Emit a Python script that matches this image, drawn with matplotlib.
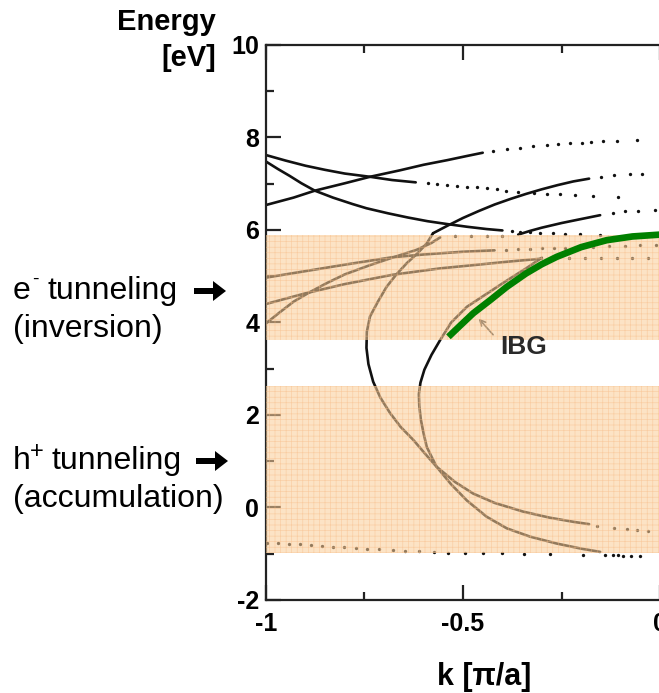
import matplotlib.pyplot as plt
from matplotlib.patches import FancyArrow
from matplotlib.transforms import IdentityTransform

plt.rcParams['font.family'] = ['Liberation Sans', 'DejaVu Sans']
plt.rcParams['hatch.linewidth'] = 0.45

# shaded energy windows (tunneling ranges)
band_lo = [3.62, -0.98]
band_hi = [5.90, 2.63]

# upper bands (black, above the window)
c1_k = [-1, -0.93, -0.876, -0.8, -0.736, -0.66, -0.6, -0.54, -0.49, -0.45]
c1_E = [6.54, 6.70, 6.85, 7.01, 7.15, 7.29, 7.41, 7.51, 7.60, 7.67]
c1_dot_k = [-0.423, -0.389, -0.355, -0.322, -0.288, -0.258, -0.229, -0.199, -0.174, -0.144, -0.110, -0.059]
c1_dot_E = [7.71, 7.75, 7.78, 7.81, 7.83, 7.85, 7.87, 7.89, 7.90, 7.92, 7.93, 7.95]

c2_k = [-1, -0.95, -0.9, -0.85, -0.8, -0.736, -0.68, -0.62]
c2_E = [7.62, 7.50, 7.39, 7.30, 7.22, 7.15, 7.08, 7.03]
c2_dot_k = [-0.59, -0.565, -0.54, -0.515, -0.49, -0.465, -0.44, -0.415, -0.39, -0.36, -0.32, -0.288, -0.253, -0.216, -0.17, -0.106]
c2_dot_E = [7.02, 7.00, 6.98, 6.96, 6.94, 6.92, 6.90, 6.88, 6.85, 6.82, 6.80, 6.78, 6.77, 6.75, 6.74, 6.72]

c3_k = [-1, -0.97, -0.94, -0.91, -0.876, -0.83, -0.78, -0.745, -0.69, -0.64, -0.59, -0.542, -0.49, -0.44, -0.40]
c3_E = [7.48, 7.32, 7.17, 7.01, 6.85, 6.70, 6.56, 6.47, 6.36, 6.27, 6.19, 6.13, 6.07, 6.02, 5.99]
c3_dot_k = [-0.375, -0.355, -0.33, -0.305, -0.271, -0.241, -0.203, -0.152]
c3_dot_E = [5.97, 5.96, 5.95, 5.94, 5.93, 5.92, 5.91, 5.89]

c4_k = [-0.36, -0.33, -0.30, -0.25, -0.21, -0.152]
c4_E = [5.90, 5.98, 6.05, 6.15, 6.22, 6.32]
c4_dot_k = [-0.12, -0.09, -0.055, -0.013]
c4_dot_E = [6.37, 6.40, 6.42, 6.43]

r2_k = [-0.576, -0.54, -0.5, -0.46, -0.42, -0.38, -0.34, -0.30, -0.26, -0.22, -0.18]
r2_E = [5.93, 6.09, 6.26, 6.41, 6.55, 6.67, 6.78, 6.88, 6.97, 7.05, 7.11]
r2_dot_k = [-0.15, -0.118, -0.076, -0.046]
r2_dot_E = [7.15, 7.19, 7.20, 7.22]

# left "C" band (upper branch -> vertex -> lower branch -> steep tail)
lc_k = [-0.576, -0.592, -0.615, -0.643, -0.67, -0.694, -0.716, -0.736, -0.744, -0.745, -0.74, -0.728,
        -0.71, -0.685, -0.658, -0.626, -0.597, -0.567, -0.53, -0.49, -0.44, -0.389, -0.33, -0.262, -0.2, -0.152]
lc_E = [5.93, 5.71, 5.50, 5.28, 5.03, 4.77, 4.45, 4.13, 3.80, 3.45, 3.10, 2.72,
        2.38, 2.04, 1.74, 1.46, 1.17, 0.88, 0.50, 0.15, -0.20, -0.45, -0.63, -0.78, -0.89, -0.96]

# right "C" band
rc_k = [-0.30, -0.34, -0.39, -0.44, -0.49, -0.53, -0.558, -0.58, -0.598, -0.608, -0.612, -0.611,
        -0.607, -0.60, -0.592, -0.58, -0.567, -0.52, -0.474, -0.42, -0.347, -0.28, -0.22, -0.18]
rc_E = [5.40, 5.17, 4.90, 4.62, 4.34, 4.00, 3.62, 3.30, 2.98, 2.70, 2.45, 2.20,
        1.90, 1.60, 1.31, 1.10, 0.88, 0.55, 0.30, 0.10, -0.09, -0.22, -0.31, -0.36]
rc_dot_k = [-0.161, -0.118, -0.085, -0.059, -0.03]
rc_dot_E = [-0.40, -0.44, -0.46, -0.49, -0.51]

# bands inside the upper window
la_k = [-1, -0.9, -0.8, -0.68, -0.6, -0.5, -0.42]
la_E = [4.97, 5.11, 5.25, 5.41, 5.47, 5.53, 5.56]
la_dot_k = [-0.39, -0.36, -0.33, -0.30, -0.27, -0.24, -0.21, -0.17, -0.13, -0.09, -0.05, -0.01]
la_dot_E = [5.57, 5.58, 5.59, 5.60, 5.61, 5.62, 5.63, 5.64, 5.65, 5.66, 5.67, 5.68]

lb_k = [-1, -0.9, -0.8, -0.68, -0.558, -0.45, -0.38, -0.30]
lb_E = [4.40, 4.63, 4.83, 5.03, 5.17, 5.26, 5.32, 5.38]
lb_dot_k = [-0.27, -0.23, -0.19, -0.15, -0.11, -0.07, -0.03]
lb_dot_E = [5.40, 5.40, 5.39, 5.39, 5.39, 5.39, 5.39]

lcc_k = [-1, -0.965, -0.93, -0.89, -0.846, -0.8, -0.736, -0.68, -0.618, -0.58, -0.558]
lcc_E = [3.98, 4.22, 4.45, 4.65, 4.85, 5.04, 5.24, 5.40, 5.57, 5.72, 5.84]
lcc_dot_k = [-0.52, -0.48, -0.44, -0.40]
lcc_dot_E = [5.86, 5.87, 5.87, 5.88]

# lowest band (dots)
low_k = [-0.998, -0.969, -0.941, -0.914, -0.887, -0.859, -0.831, -0.802, -0.772, -0.743, -0.712, -0.678,
         -0.646, -0.611, -0.574, -0.537, -0.495, -0.450, -0.402, -0.345, -0.279, -0.195, -0.140, -0.119,
         -0.106, -0.093, -0.074, -0.051]
low_E = [-0.76, -0.77, -0.79, -0.80, -0.82, -0.83, -0.85, -0.86, -0.88, -0.90, -0.90, -0.92,
         -0.93, -0.95, -0.96, -0.98, -0.98, -0.98, -0.99, -1.00, -1.01, -1.03, -1.03, -1.03,
         -1.03, -1.04, -1.05, -1.05]

# IBG band (green)
ibg_k = [-0.537, -0.51, -0.474, -0.43, -0.389, -0.34, -0.30, -0.262, -0.2, -0.135, -0.07, 0]
ibg_E = [3.69, 3.91, 4.20, 4.49, 4.77, 5.06, 5.26, 5.42, 5.63, 5.78, 5.86, 5.90]

fig = plt.figure(figsize=(6.59, 6.93), dpi=100)
ax = fig.add_axes([0.4036, 0.1342, 0.598, 0.8009])

ink = '#111111'


def solid(k, E):
    ax.plot(k, E, color=ink, lw=1.9, solid_capstyle='round', zorder=2)


def dots(k, E):
    ax.plot(k, E, ls='none', marker='o', ms=2.4, mec='none', color=ink, zorder=2)


for k, E in [(c1_k, c1_E), (c2_k, c2_E), (c3_k, c3_E), (c4_k, c4_E), (r2_k, r2_E),
             (lc_k, lc_E), (rc_k, rc_E), (la_k, la_E), (lb_k, lb_E), (lcc_k, lcc_E)]:
    solid(k, E)
for k, E in [(c1_dot_k, c1_dot_E), (c2_dot_k, c2_dot_E), (c3_dot_k, c3_dot_E), (c4_dot_k, c4_dot_E),
             (r2_dot_k, r2_dot_E), (rc_dot_k, rc_dot_E), (la_dot_k, la_dot_E), (lb_dot_k, lb_dot_E),
             (lcc_dot_k, lcc_dot_E), (low_k, low_E)]:
    dots(k, E)

ax.annotate('', xy=(-0.465, 4.13), xytext=(-0.419, 3.69),
            arrowprops=dict(arrowstyle='->', color='#444444', lw=1.2), zorder=2)

for lo, hi in zip(band_lo, band_hi):
    ax.axhspan(lo, hi, facecolor='#facd98', edgecolor='#f7bb85', alpha=0.56,
               hatch='+++', lw=0, zorder=3)

ax.plot(ibg_k, ibg_E, color='#008000', lw=4.8, solid_capstyle='butt', zorder=4)
ax.text(-0.346, 3.47, 'IBG', fontsize=19, fontweight='bold', color='#2a2a2a',
        ha='center', va='center', zorder=5)

ax.set_xlim(-1, 0)
ax.set_ylim(-2, 10)
ax.set_xticks([-1, -0.5, 0])
ax.set_xticklabels(['-1', '-0.5', '0'])
ax.set_xticks([-0.75, -0.25], minor=True)
ax.set_yticks(range(-2, 11, 2))
ax.set_yticklabels(['-2', '0', '2', '4', '6', '8', '10'])
ax.set_yticks(range(-1, 10, 2), minor=True)
ax.tick_params(which='both', direction='in', top=True, right=False, width=1.6, color='#222222')
ax.tick_params(which='major', length=11)
ax.tick_params(which='minor', length=5.5)
ax.tick_params(axis='x', which='major', pad=9, labelsize=18)
ax.tick_params(axis='y', which='major', pad=5, labelsize=18)
for lbl in ax.get_xticklabels() + ax.get_yticklabels():
    lbl.set_fontweight('bold')
for s in ax.spines.values():
    s.set_linewidth(1.6)
    s.set_color('#222222')
ax.spines['right'].set_visible(False)

W, H = 659, 693


def ftext(x, y, s, **kw):
    fig.text(x / W, 1 - y / H, s, **kw)


def farrow(x, y):
    fig.add_artist(FancyArrow(x, H - y, 32, 0, width=6, head_width=20, head_length=13,
                              length_includes_head=True, color='black', lw=0,
                              transform=IdentityTransform()))


ftext(216, 22, 'Energy', fontsize=21, fontweight='bold', ha='right', va='center')
ftext(216, 58, '[eV]', fontsize=21, fontweight='bold', ha='right', va='center')
ftext(484, 677, 'k [π/a]', fontsize=22, fontweight='bold', ha='center', va='center')

ftext(13, 291, 'e', fontsize=23, ha='left', va='center')
ftext(32, 279, '-', fontsize=14, ha='left', va='center')
ftext(47, 291, 'tunneling', fontsize=23, ha='left', va='center')
ftext(13, 329, '(inversion)', fontsize=23, ha='left', va='center')
ftext(13, 461, 'h', fontsize=23, ha='left', va='center')
ftext(30, 452, '+', fontsize=17, ha='left', va='center')
ftext(51, 461, 'tunneling', fontsize=23, ha='left', va='center')
ftext(13, 499, '(accumulation)', fontsize=23, ha='left', va='center')
farrow(194, 291)
farrow(196, 461)

fig.savefig('out.png', dpi=100)
